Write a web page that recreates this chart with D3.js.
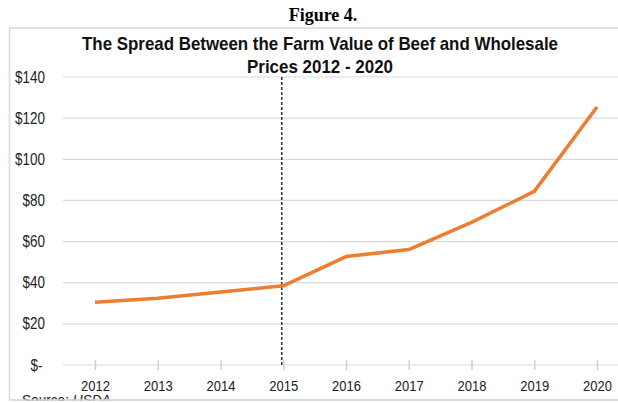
<!DOCTYPE html>
<html lang="en">
<head>
    <meta charset="UTF-8">
    <title>Figure 4</title>
    <script src="https://d3js.org/d3.v7.min.js"></script>
    <style>
        body { margin: 0; background: #fff; }
        svg { display: block; font-family: "Liberation Sans", Arial, sans-serif; }
    </style>
</head>
<body>
    <svg width="618" height="403"></svg>

    <script>
        // data
        const years = ["2012", "2013", "2014", "2015", "2016", "2017", "2018", "2019", "2020"];
        const spread = [30.5, 32.5, 35.5, 38.5, 52.7, 56.1, 69.3, 84.4, 125.4];
        const yTicks = [0, 20, 40, 60, 80, 100, 120, 140];
        const markerYear = "2015";

        const svg = d3.select("svg");

        // scales
        const x = d3.scalePoint().domain(years).range([95, 597]);
        const y = d3.scaleLinear().domain([0, 140]).range([365, 77]);

        // figure caption above the box
        svg.append("text")
            .attr("x", 323).attr("y", 21)
            .attr("text-anchor", "middle")
            .style("font-family", "'Liberation Serif', 'Times New Roman', serif")
            .style("font-weight", "bold")
            .style("font-size", "18px")
            .text("Figure 4.");

        // chart box (right side runs off the page)
        svg.append("rect")
            .attr("x", 9.5).attr("y", 28)
            .attr("width", 640).attr("height", 372)
            .attr("fill", "none")
            .attr("stroke", "#d9d9d9")
            .attr("stroke-width", 1.5);

        // title
        const title = ["The Spread Between the Farm Value of Beef and Wholesale", "Prices 2012 - 2020"];
        const titleW = [476, 146];
        title.forEach((t, i) => {
            svg.append("text")
                .attr("x", 320).attr("y", 50 + i * 23)
                .attr("text-anchor", "middle")
                .attr("textLength", titleW[i])
                .attr("lengthAdjust", "spacingAndGlyphs")
                .style("font-weight", "bold")
                .style("font-size", "18.5px")
                .attr("fill", "#111")
                .text(t);
        });

        // gridlines
        svg.append("g")
            .selectAll("line")
            .data(yTicks.filter(d => d > 0))
            .join("line")
            .attr("x1", 63).attr("x2", 618)
            .attr("y1", d => y(d)).attr("y2", d => y(d))
            .attr("stroke", "#d9d9d9")
            .attr("stroke-width", 1.2);

        // y axis labels (narrow, like Arial Narrow)
        const yAxis = svg.append("g")
            .attr("transform", "translate(45,0)")
            .call(d3.axisLeft(y).tickValues(yTicks).tickSize(0).tickPadding(0)
                .tickFormat(d => d === 0 ? "$-" : "$" + d));
        yAxis.select(".domain").remove();
        yAxis.selectAll("text")
            .attr("x", d => d === 0 ? -3 : 0)
            .attr("transform", "scale(0.84,1)")
            .style("font-family", "'Liberation Sans', Arial, sans-serif")
            .style("font-size", "16px")
            .attr("fill", "#222");

        // x axis
        const xAxis = svg.append("g")
            .attr("transform", `translate(0,${y(0)})`)
            .call(d3.axisBottom(x).tickSize(5).tickPadding(10).tickSizeOuter(0));
        xAxis.select(".domain")
            .attr("d", `M63,0H618`)
            .attr("stroke", "#d9d9d9")
            .attr("stroke-width", 1.2);
        xAxis.selectAll(".tick line")
            .attr("y1", -5).attr("y2", 5)
            .attr("stroke", "#cfcfcf")
            .attr("stroke-width", 1.5);
        xAxis.selectAll("text")
            .attr("y", 26).attr("dy", null)
            .attr("transform", "scale(0.84,1)")
            .style("font-family", "'Liberation Sans', Arial, sans-serif")
            .style("font-size", "15.5px")
            .attr("fill", "#222");

        // dashed marker at 2015
        svg.append("line")
            .attr("x1", x(markerYear) - 1.5).attr("x2", x(markerYear) - 1.5)
            .attr("y1", y(140)).attr("y2", y(0))
            .attr("stroke", "#333")
            .attr("stroke-width", 1.5)
            .attr("stroke-dasharray", "3,2");

        // spread line
        svg.append("path")
            .datum(years.map((yr, i) => ({ yr, v: spread[i] })))
            .attr("fill", "none")
            .attr("stroke", "#ED7D31")
            .attr("stroke-width", 3.5)
            .attr("stroke-linejoin", "round")
            .attr("d", d3.line().x(d => x(d.yr)).y(d => y(d.v)));

        // source note, cut by the box bottom as in the original
        const src = svg.append("text")
            .attr("transform", "translate(22,405) scale(0.88,1)")
            .style("font-size", "15.5px")
            .attr("fill", "#222");
        src.append("tspan").text("Source: ");
        src.append("tspan").style("font-style", "italic").text("USDA");

        svg.append("rect")
            .attr("x", 0).attr("y", 400.75)
            .attr("width", 618).attr("height", 10)
            .attr("fill", "#fff");
        svg.append("line")
            .attr("x1", 9).attr("x2", 618)
            .attr("y1", 400).attr("y2", 400)
            .attr("stroke", "#d9d9d9")
            .attr("stroke-width", 1.5);
    </script>
</body>
</html>
